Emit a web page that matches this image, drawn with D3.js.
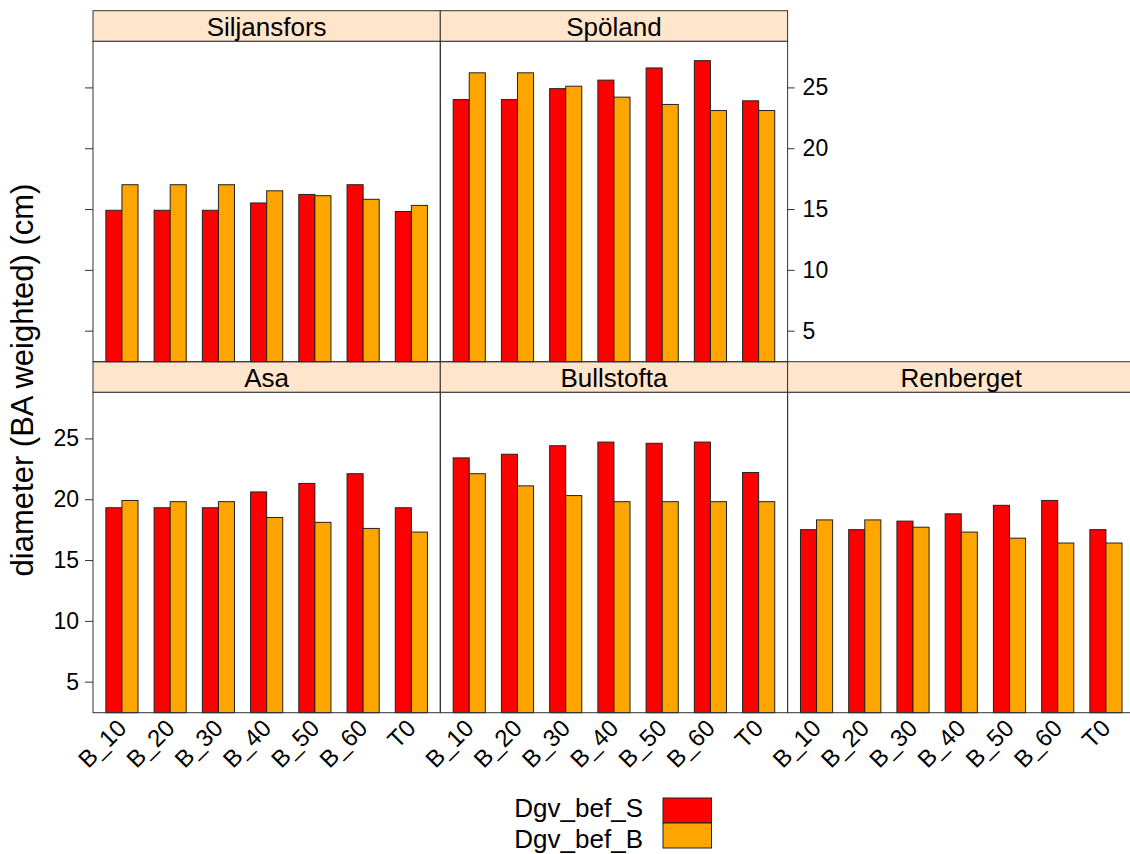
<!DOCTYPE html>
<html>
<head>
<meta charset="utf-8">
<script src="https://cdn.jsdelivr.net/npm/d3@7"></script>
<style>
body { margin:0; background:#fff; }
svg text { font-family: Arial, "Liberation Sans", sans-serif; fill:#000; }
</style>
</head>
<body>
<svg width="1130" height="854"></svg>
<script>
// data
var treatments = ["B_10","B_20","B_30","B_40","B_50","B_60","T0"];
var seriesNames = ["Dgv_bef_S","Dgv_bef_B"];
var seriesColors = ["#ff0000","#ffa500"];
var sites = ["Asa","Bullstofta","Renberget","Siljansfors","Spöland"];

var dgvS = {
	"Asa":         [19.3, 19.3, 19.3, 20.6, 21.3, 22.1, 19.3],
	"Bullstofta":  [23.4, 23.7, 24.4, 24.7, 24.6, 24.7, 22.2],
	"Renberget":   [17.5, 17.5, 18.2, 18.8, 19.5, 19.9, 17.5],
	"Siljansfors": [14.9, 14.9, 14.9, 15.5, 16.2, 17.0, 14.8],
	"Spöland":     [24.0, 24.0, 24.9, 25.6, 26.6, 27.2, 23.9]
};
var dgvB = {
	"Asa":         [19.9, 19.8, 19.8, 18.5, 18.1, 17.6, 17.3],
	"Bullstofta":  [22.1, 21.1, 20.3, 19.8, 19.8, 19.8, 19.8],
	"Renberget":   [18.3, 18.3, 17.7, 17.3, 16.8, 16.4, 16.4],
	"Siljansfors": [17.0, 17.0, 17.0, 16.5, 16.1, 15.8, 15.3],
	"Spöland":     [26.2, 26.2, 25.1, 24.2, 23.6, 23.1, 23.1]
};
var yTicks = [5,10,15,20,25];
var yLimits = [2.45, 28.8];

/*
layout of the lattice. lattice fills from bottom left, so the
first three sites are the bottom row and the last two the top row
*/
var layout = {
	left : 93,
	panelW : 347.3,
	stripH : 30.5,
	panelH : 320.5,
	rowTop : [361.7, 10.7] // row 0 = bottom, row 1 = top
};

var svg = d3.select('svg');

var x = d3.scaleBand()
	.domain(treatments)
	.range([0, layout.panelW])
	.paddingInner(1/3)
	.paddingOuter(0.2667);

var xs = d3.scaleBand()
	.domain(seriesNames)
	.range([0, x.bandwidth()]);

var y = d3.scaleLinear()
	.domain(yLimits)
	.range([layout.panelH, 0]);

function drawPanel(site, i){
	var col = i % 3;
	var row = Math.floor(i / 3);
	var px = layout.left + col * layout.panelW;
	var stripY = layout.rowTop[row];
	var py = stripY + layout.stripH;

	var g = svg.append('g')
		.attr("transform", "translate(" + px + "," + py + ")");

	// bars
	var vals = [dgvS[site], dgvB[site]];
	treatments.forEach(function(t, j){
		var grp = g.append('g')
			.attr("transform", "translate(" + x(t) + ",0)");
		seriesNames.forEach(function(s, k){
			grp.append('rect')
				.attr("x", xs(s))
				.attr("y", y(vals[k][j]))
				.attr("width", xs.bandwidth())
				.attr("height", layout.panelH - y(vals[k][j]))
				.attr("fill", seriesColors[k])
				.attr("stroke", "#222")
				.attr("stroke-width", 1);
		});
	});

	// panel frame
	g.append('rect')
		.attr("x", 0).attr("y", 0)
		.attr("width", layout.panelW).attr("height", layout.panelH)
		.attr("fill", "none").attr("stroke", "#333").attr("stroke-width", 1);

	// strip
	var st = svg.append('g')
		.attr("transform", "translate(" + px + "," + stripY + ")");
	st.append('rect')
		.attr("width", layout.panelW).attr("height", layout.stripH)
		.attr("fill", "#ffe5cc").attr("stroke", "#333").attr("stroke-width", 1);
	st.append('text')
		.attr("x", layout.panelW / 2)
		.attr("y", 25.2)
		.attr("text-anchor", "middle")
		.style("font-size", "26px")
		.text(site);

	// left axis on first column
	if(col == 0){
		var ax = d3.axisLeft(y).tickValues(yTicks).tickSize(8).tickPadding(6);
		if(row == 1) ax.tickFormat("");
		var a = g.append('g').call(ax);
		a.select('.domain').remove();
		a.selectAll('line').attr("stroke", "#333");
		a.selectAll('text').style("font-size", "23px").attr("font-family", null);
	}
	// right axis only on the top row, the bottom one falls outside the picture
	if(row == 1 && col == 1){
		var axr = d3.axisRight(y).tickValues(yTicks).tickSize(7).tickPadding(8);
		var b = g.append('g')
			.attr("transform", "translate(" + layout.panelW + ",0)")
			.call(axr);
		b.select('.domain').remove();
		b.selectAll('line').attr("stroke", "#333");
		b.selectAll('text').style("font-size", "23px").attr("font-family", null);
	}
	// rotated treatment labels under the bottom row
	if(row == 0){
		g.selectAll('.xlab')
			.data(treatments)
			.enter()
			.append('text')
			.attr("class", "xlab")
			.attr("transform", function(d){
				return "translate(" + (x(d) + x.bandwidth() / 2) + "," + (layout.panelH + 11) + ") rotate(-45)";
			})
			.attr("dy", "0.35em")
			.attr("text-anchor", "end")
			.style("font-size", "24px")
			.text(function(d){ return d; });
	}
}

sites.forEach(drawPanel);

// y axis title
svg.append('text')
	.attr("transform", "translate(33,380) rotate(-90)")
	.attr("text-anchor", "middle")
	.style("font-size", "31px")
	.text("diameter (BA weighted) (cm)");

// legend
var legend = svg.append('g');
seriesNames.forEach(function(s, k){
	legend.append('rect')
		.attr("x", 663)
		.attr("y", 798 + k * 25)
		.attr("width", 48.5)
		.attr("height", 25)
		.attr("fill", seriesColors[k])
		.attr("stroke", "#222");
	legend.append('text')
		.attr("x", 643)
		.attr("y", 817 + k * 31)
		.attr("text-anchor", "end")
		.style("font-size", "26px")
		.text(s);
});
</script>
</body>
</html>
